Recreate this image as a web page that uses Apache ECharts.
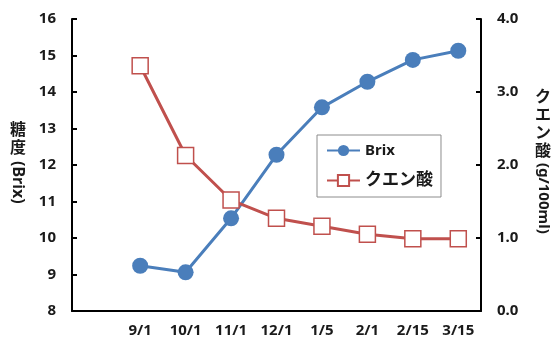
<!DOCTYPE html>
<html>
<head>
<meta charset="utf-8">
<script src="https://cdn.jsdelivr.net/npm/echarts@6/dist/echarts.min.js"></script>
<style>
  html, body { margin: 0; padding: 0; background: #fff; }
  #chart { width: 555px; height: 345px; }
</style>
</head>
<body>
<div id="chart"></div>
<script>
// Sampling dates
const dates = ['9/1', '10/1', '11/1', '12/1', '1/5', '2/1', '2/15', '3/15'];
// Sugar content (Brix)
const brix = [9.24, 9.06, 10.54, 12.28, 13.58, 14.28, 14.88, 15.13];
// Citric acid (g/100ml)
const citric = [3.36, 2.13, 1.52, 1.27, 1.16, 1.05, 0.99, 0.99];

const FONT = '"Noto Sans", "Noto Sans CJK JP", sans-serif';
const TXT = '#1a1a1a';

// a blank slot ahead of the first date leaves room on the left of the plot
const xCats = [''].concat(dates);
const pad = arr => [null].concat(arr);

const chart = echarts.init(document.getElementById('chart'));
chart.setOption({
  animation: false,
  grid: { left: 72, right: 74, top: 19, bottom: 34, containLabel: false },
  legend: {
    orient: 'vertical',
    left: 317, top: 135,
    padding: [8, 8, 8, 9],
    itemWidth: 33, itemHeight: 14, itemGap: 14,
    borderColor: '#8c8c8c', borderWidth: 1,
    textStyle: {
      fontFamily: FONT, fontWeight: 'bold', fontSize: 15, color: TXT,
      rich: { j: { fontFamily: FONT, fontWeight: 'bold', fontSize: 17, color: TXT } }
    },
    formatter: name => /^[A-Za-z]+$/.test(name) ? name : '{j|' + name + '}',
    data: ['Brix', 'クエン酸']
  },
  xAxis: {
    type: 'category',
    data: xCats,
    boundaryGap: true,
    axisLine: { lineStyle: { color: '#000', width: 2 } },
    axisTick: { show: false },
    axisLabel: { fontFamily: FONT, fontWeight: 'bold', fontSize: 15, color: TXT, margin: 12, interval: 0 },
    splitLine: { show: false }
  },
  yAxis: [
    {
      type: 'value', min: 8, max: 16, interval: 1,
      axisLine: { show: true, lineStyle: { color: '#000', width: 2 } },
      axisTick: { show: true, inside: true, length: 5, lineStyle: { color: '#000', width: 2 } },
      axisLabel: { fontFamily: FONT, fontWeight: 'bold', fontSize: 15, color: TXT, margin: 16 },
      splitLine: { show: false }
    },
    {
      type: 'value', min: 0, max: 4, interval: 1,
      position: 'right',
      axisLine: { show: true, lineStyle: { color: '#000', width: 2 } },
      axisTick: { show: true, inside: true, length: 5, lineStyle: { color: '#000', width: 2 } },
      axisLabel: {
        fontFamily: FONT, fontWeight: 'bold', fontSize: 15, color: TXT, margin: 16,
        formatter: v => v.toFixed(1)
      },
      splitLine: { show: false }
    }
  ],
  series: [
    {
      name: 'Brix', type: 'line', yAxisIndex: 0,
      data: pad(brix),
      symbol: 'circle', symbolSize: 16,
      lineStyle: { color: '#4a7ebb', width: 3 },
      itemStyle: { color: '#4a7ebb' }
    },
    {
      name: 'クエン酸', type: 'line', yAxisIndex: 1,
      data: pad(citric),
      symbol: 'rect', symbolSize: 16,
      lineStyle: { color: '#c0504d', width: 3 },
      itemStyle: { color: '#fff', borderColor: '#c0504d', borderWidth: 1.5 }
    }
  ],
  graphic: [
    // left axis title: upright kanji, rotated Latin
    { type: 'text', x: 18, y: 121,
      style: { text: '糖\n度', fontFamily: FONT, fontWeight: 'bold', fontSize: 16, lineHeight: 18,
               align: 'center', verticalAlign: 'top', fill: TXT } },
    { type: 'text', x: 18, y: 161, rotation: -Math.PI / 2,
      style: { text: '(Brix)', fontFamily: FONT, fontWeight: 'bold', fontSize: 16,
               align: 'left', verticalAlign: 'middle', fill: TXT } },
    // right axis title
    { type: 'text', x: 543, y: 88,
      style: { text: 'ク\nエ\nン\n酸', fontFamily: FONT, fontWeight: 'bold', fontSize: 16, lineHeight: 18,
               align: 'center', verticalAlign: 'top', fill: TXT } },
    { type: 'text', x: 543, y: 163, rotation: -Math.PI / 2,
      style: { text: '(g/100ml)', fontFamily: FONT, fontWeight: 'bold', fontSize: 15,
               align: 'left', verticalAlign: 'middle', fill: TXT } }
  ]
});
</script>
</body>
</html>
